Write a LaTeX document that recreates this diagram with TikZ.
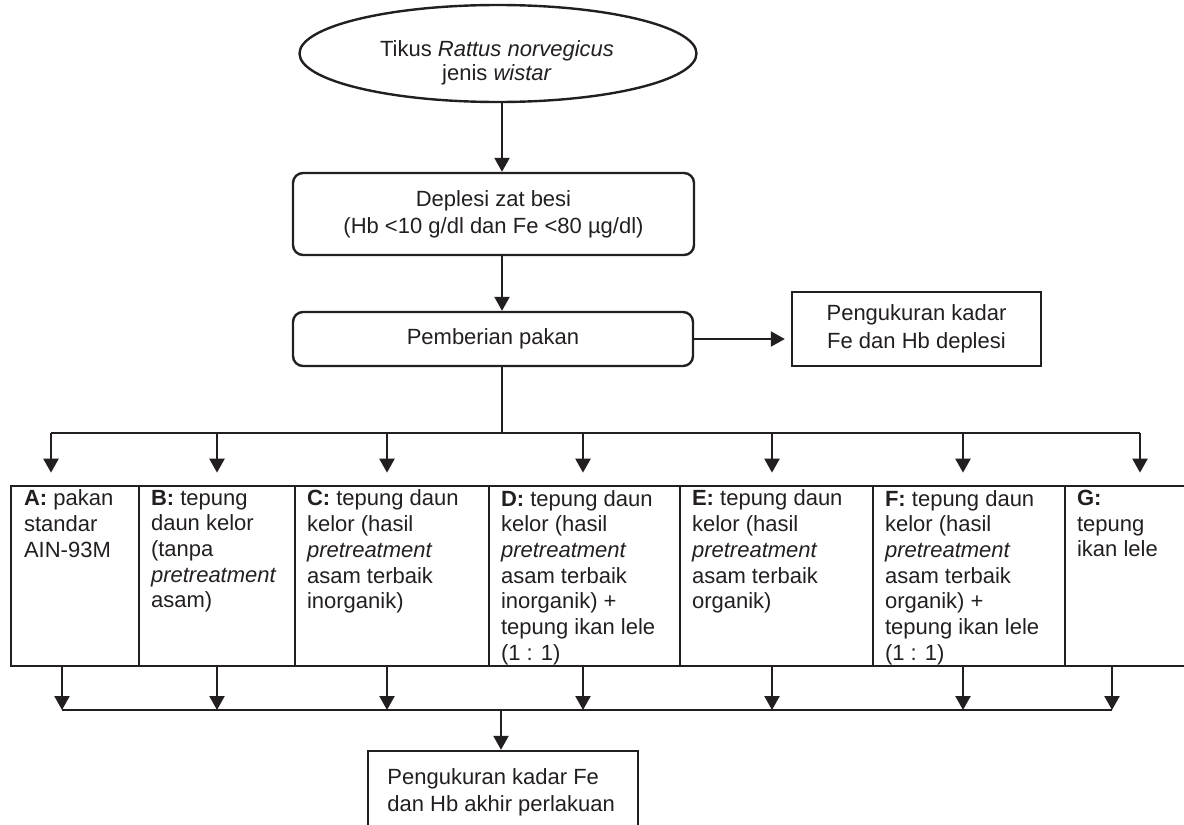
\documentclass[tikz,border=0pt]{standalone}
\usepackage{fontspec}
\setmainfont{Liberation Sans}
\usetikzlibrary{arrows.meta,shapes.geometric}
\definecolor{ink}{HTML}{231F20}
\begin{document}
\begin{tikzpicture}[x=0.5pt,y=-0.5pt,
  every node/.style={font=\fontsize{11}{13.5}\selectfont, text=ink},
  line/.style={draw=ink, line width=1.2pt},
  arr/.style={draw=ink, line width=1.2pt, -{Triangle[length=7pt,width=7.5pt]}},
  rbox/.style={draw=ink, line width=1.2pt, rounded corners=5pt, inner sep=0pt},
  sbox/.style={draw=ink, line width=1.2pt, inner sep=0pt},
  cell/.style={draw=ink, line width=1.35pt, inner sep=0pt, minimum height=90pt},
  celltxt/.style={anchor=north west, inner sep=0pt, align=left, font=\fontsize{11}{12.85}\selectfont},
]
\useasboundingbox (0,0) rectangle (1184,825);

% top ellipse
\node[ellipse, draw=ink, line width=1.2pt, minimum width=198.5pt, minimum height=48.5pt, inner sep=0pt] (e) at (498,53.5) {};
\node[align=center, inner sep=0pt, font=\fontsize{11}{12}\selectfont] (et) at (497,63) {Tikus \textit{Rattus norvegicus}\\jenis \textit{wistar}};

% upper boxes
\node[rbox, minimum width=200.5pt, minimum height=41pt, align=center] (d1) at (493.5,214) {Deplesi zat besi\\(Hb <10 g/dl dan Fe <80 µg/dl)};
\node[rbox, minimum width=200pt, minimum height=27pt] (d2) at (493,339) {Pemberian pakan};
\node[sbox, minimum width=124.5pt, minimum height=37pt, align=center, font=\fontsize{11}{14}\selectfont] (d3) at (916.5,329) {Pengukuran kadar\\Fe dan Hb deplesi};

\coordinate (ax) at (502,0);
\draw[arr] (e.south -| ax) -- (d1.north -| ax);
\draw[arr] (d1.south -| ax) -- (d2.north -| ax);
\draw[arr, shorten >=3pt] (d2.east) -- (d2.east -| d3.west);

% treatment cells
\node[cell, minimum width=64pt]   (A) at (75,576) {};
\node[cell, minimum width=78pt]   (B) at (217,576) {};
\node[cell, minimum width=97pt]   (C) at (392,576) {};
\node[cell, minimum width=95.5pt] (D) at (584.5,576) {};
\node[cell, minimum width=96.5pt] (E) at (776.5,576) {};
\node[cell, minimum width=96pt]   (F) at (969,576) {};
\node[cell, minimum width=62.5pt] (G) at (1127.5,576) {};

\node[celltxt] (tA1) at ([shift={(14,5)}]A.north west) {\textbf{A:} pakan\\standar\\AIN-93M};
\node[celltxt] (tB1) at ([shift={(13,5)}]B.north west) {\textbf{B:} tepung\\daun kelor\\(tanpa\\\textit{pretreatment}\\asam)};
\node[celltxt] (tC1) at ([shift={(13,5)}]C.north west) {\textbf{C:} tepung daun\\kelor (hasil\\\textit{pretreatment}\\asam terbaik\\inorganik)};
\node[celltxt] (tD1) at ([shift={(13,5)}]D.north west) {\textbf{D:} tepung daun\\kelor (hasil\\\textit{pretreatment}\\asam terbaik\\inorganik) +\\tepung ikan lele\\(1 : 1)};
\node[celltxt] (tE1) at ([shift={(13,5)}]E.north west) {\textbf{E:} tepung daun\\kelor (hasil\\\textit{pretreatment}\\asam terbaik\\organik)};
\node[celltxt] (tF1) at ([shift={(13,5)}]F.north west) {\textbf{F:} tepung daun\\kelor (hasil\\\textit{pretreatment}\\asam terbaik\\organik) +\\tepung ikan lele\\(1 : 1)};
\node[celltxt] (tG1) at ([shift={(13,5)}]G.north west) {\textbf{G:}\\tepung\\ikan lele};

% distribution line
\coordinate (j1) at (502,433);
\coordinate (tA) at (51,433);
\coordinate (tB) at (217,433);
\coordinate (tC) at (387,433);
\coordinate (tD) at (583,433);
\coordinate (tE) at (772,433);
\coordinate (tF) at (963,433);
\coordinate (tG) at (1140,433);
\draw[line] (d2.south -| ax) -- (j1);
\draw[line] (tA) -- (tG);
\foreach \c in {A,B,C,D,E,F,G} \draw[arr, shorten >=6pt] (t\c) -- (t\c |- \c.north);

% collection line
\coordinate (bA) at (62,710);
\coordinate (bB) at (217,710);
\coordinate (bC) at (387,710);
\coordinate (bD) at (583,710);
\coordinate (bE) at (772,710);
\coordinate (bF) at (963,710);
\coordinate (bG) at (1112,710);
\draw[line] (bA) -- (bG);
\foreach \c in {A,B,C,D,E,F,G} \draw[arr] (b\c |- \c.south) -- (b\c);

% final box
\node[sbox, minimum width=135pt, minimum height=44.5pt] (fin) at (503,795.5) {};
\node[anchor=north west, inner sep=0pt, align=left] (fint) at (387,768) {Pengukuran kadar Fe\\dan Hb akhir perlakuan};
\coordinate (j2) at (501,710);
\draw[arr] (j2) -- (j2 |- fin.north);
\end{tikzpicture}
\end{document}
